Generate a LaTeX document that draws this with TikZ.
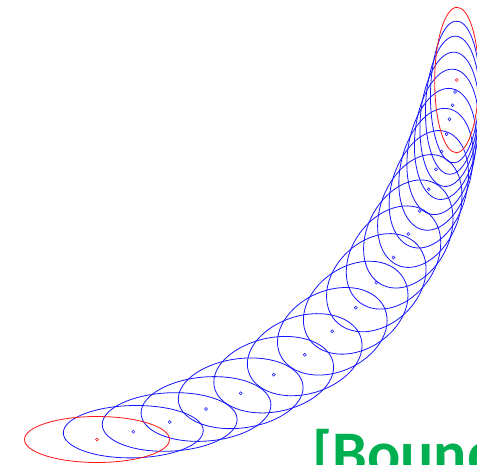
\documentclass[tikz,border=0pt]{standalone}
\usepackage{fontspec}
\newfontfamily\calib{Carlito}
\definecolor{ellblue}{RGB}{20,20,255}
\definecolor{ellred}{RGB}{255,20,20}
\definecolor{titlegreen}{RGB}{0,176,80}
\begin{document}
\begin{tikzpicture}[x=1pt,y=1pt,
  ell/.style={line width=0.8pt},
  cdot/.style={line width=0.5pt}]
\useasboundingbox (0,0) rectangle (477,465);
\clip (0,0) rectangle (477,465);
\foreach \i/\cx/\cy/\col in {
  1/133.3/431.7/ellblue, 2/169.7/422/ellblue, 3/206/409/ellblue,
  4/240.7/393.3/ellblue, 5/273.7/374.7/ellblue, 6/304.7/354.7/ellblue,
  7/332.3/331.3/ellblue, 8/355.7/307.7/ellblue, 9/376.3/282.7/ellblue,
  10/393.5/257.5/ellblue, 11/408.3/234/ellblue, 12/419.8/211/ellblue,
  13/428.8/189.3/ellblue, 14/436/169.3/ellblue, 15/441.5/151.5/ellblue,
  16/446.5/134.3/ellblue, 17/449.5/119.3/ellblue, 18/452.5/105.2/ellblue,
  19/455/92/ellblue, 0/97/439.5/ellred, 20/456.7/80/ellred} {
  \pgfmathsetmacro\tv{\i/20}
  \pgfmathsetmacro\Wv{72.5-50.5*\tv}
  \pgfmathsetmacro\Hv{23+49.7*\tv+15*\tv*(1-\tv)}
  \pgfmathsetmacro\rv{0.27*sin(180*\tv)+0.02*\tv}
  \pgfmathsetmacro\bv{\rv*\Hv}
  \pgfmathsetmacro\dv{\Hv*sqrt(1-\rv*\rv)}
  \pgfmathsetmacro\Yv{465-\cy}
  \draw[ell,\col,cm={\Wv,\bv,0,\dv,(\cx,\Yv)}] (0,0) circle[radius=1pt];
  \draw[cdot,\col] (\cx,\Yv) circle[radius=1.5pt];
}
\node[anchor=base west, inner sep=0pt, text=titlegreen,
  font=\calib\bfseries\fontsize{62}{70}\selectfont] (title) at (312,-10) {[Bound};
\end{tikzpicture}
\end{document}
